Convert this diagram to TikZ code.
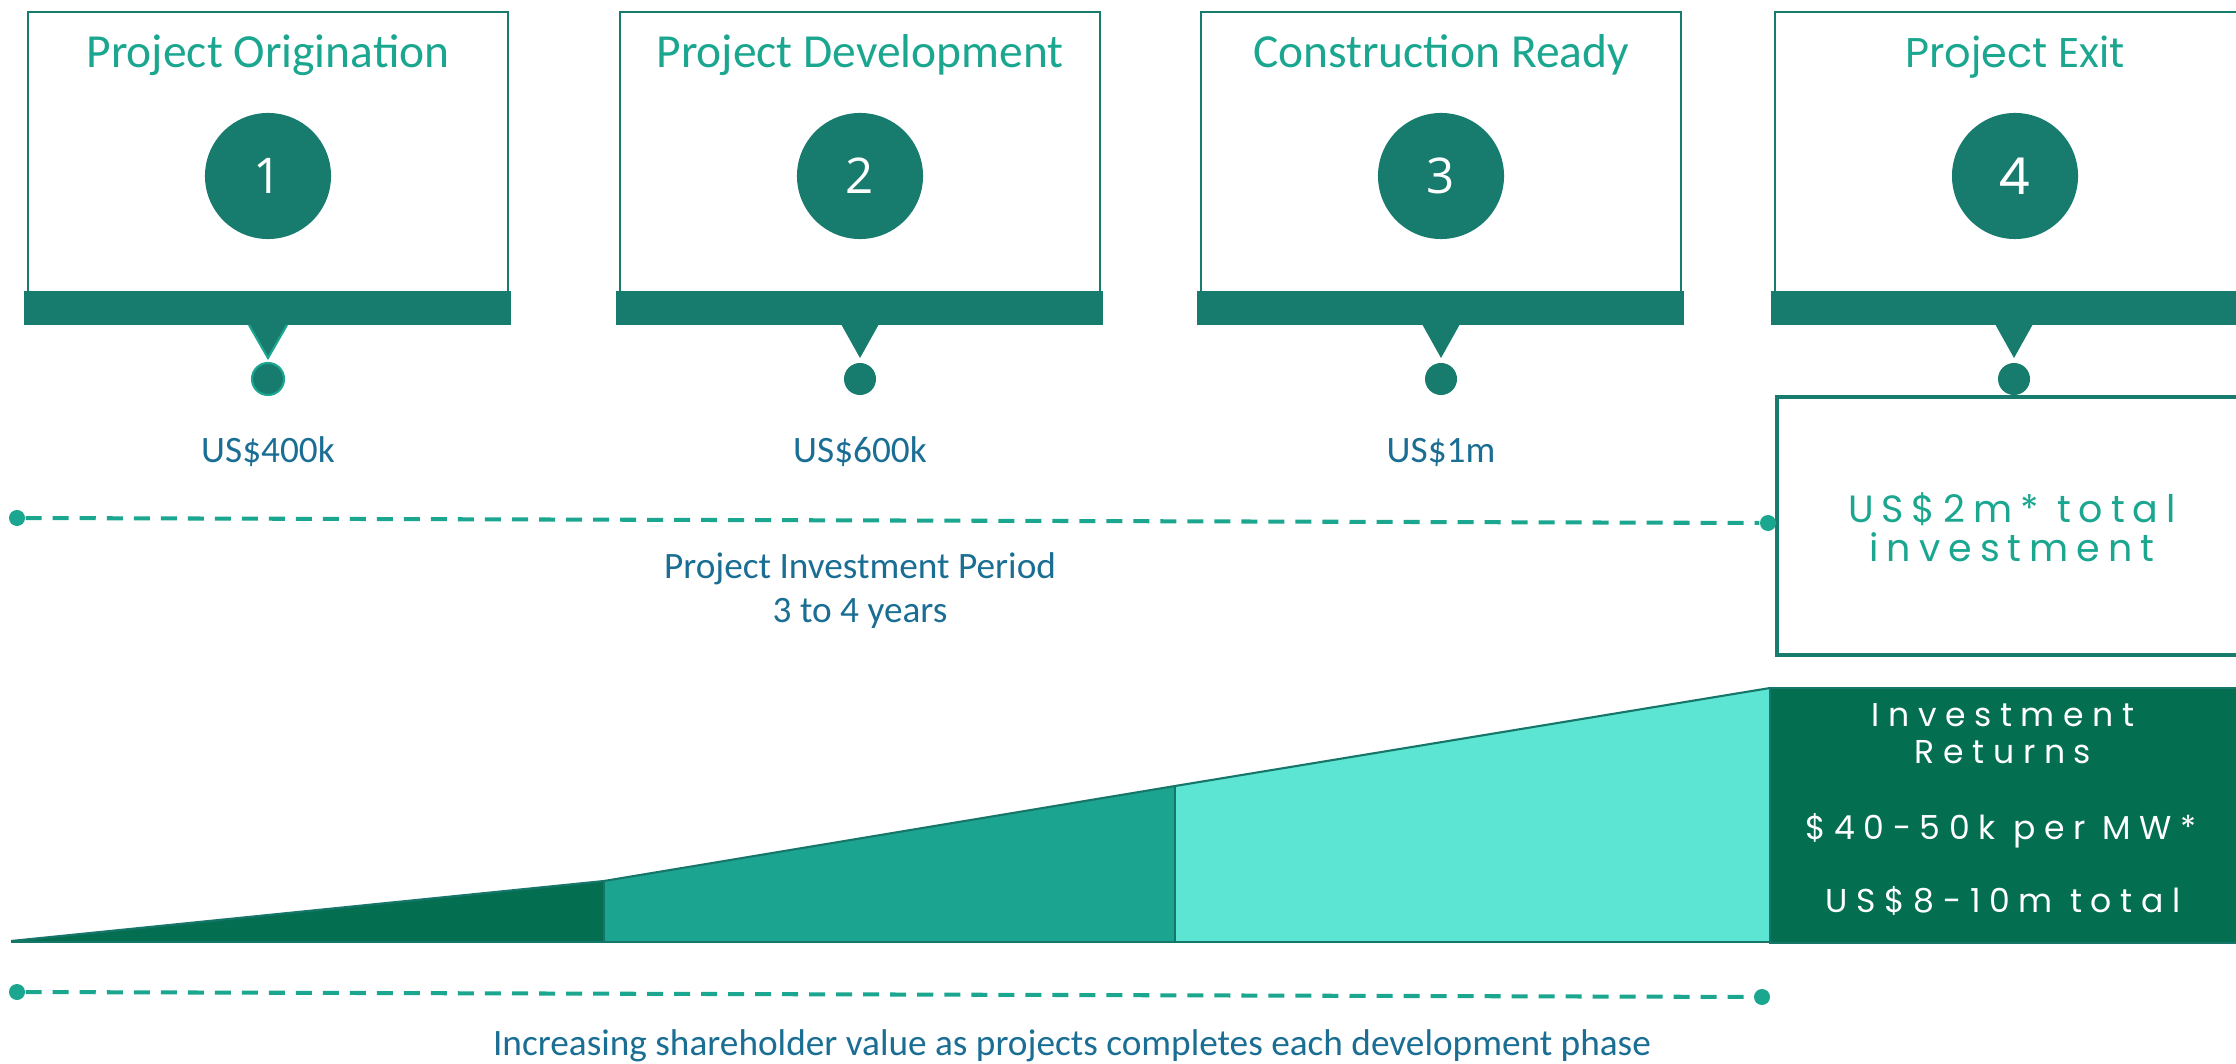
\documentclass[tikz,border=0pt]{standalone}
\usepackage{fontspec}
\setmainfont{Carlito}
\newfontfamily\osans{Open Sans}
\newfontfamily\pop{Poppins}
\newfontfamily\popA[LetterSpace=21]{Poppins}
\newfontfamily\popB[LetterSpace=26]{Poppins}
\definecolor{tealdk}{RGB}{23,123,110}
\definecolor{tealtxt}{RGB}{27,166,144}
\definecolor{bluetxt}{RGB}{27,110,147}
\definecolor{gdark}{RGB}{3,110,80}
\definecolor{gmed}{RGB}{27,165,145}
\definecolor{glight}{RGB}{92,229,210}
\definecolor{edgec}{RGB}{23,118,106}
\begin{document}
\begin{tikzpicture}[x=0.01cm,y=-0.01cm,
  phasebox/.style={draw=tealdk,line width=0.6pt,minimum width=4.8cm,minimum height=2.88cm,inner sep=0pt},
  barbox/.style={fill=tealdk,minimum width=4.87cm,minimum height=0.34cm,inner sep=0pt},
  numcirc/.style={circle,fill=tealdk,minimum size=1.26cm,inner sep=0pt,text=white,font=\osans\fontsize{14}{16}\selectfont},
  pin/.style={circle,fill=tealdk,minimum size=0.32cm,inner sep=0pt},
  titletxt/.style={anchor=base,text=tealtxt,inner sep=0pt,font=\fontsize{13.5}{15}\selectfont},
  amounttxt/.style={anchor=base,text=bluetxt,inner sep=0pt,font=\fontsize{10.6}{12}\selectfont},
  enddot/.style={circle,fill=tealtxt,minimum size=0.16cm,inner sep=0pt},
  dashline/.style={draw=tealtxt,line width=1.15pt,dash pattern=on 0.16cm off 0.11cm},
  wedge/.style={draw=edgec,line width=0.6pt},
  whitetxt/.style={anchor=base,text=white,inner sep=0pt,font=\popB\fontsize{9.4}{11}\selectfont},
]
\useasboundingbox (0,0) rectangle (2236,1064);
\clip (0,0) rectangle (2236,1064);

% phase boxes 1-3
\foreach \i/\cx/\ttl/\amt in {1/268/Project Origination/US\$400k, 2/860/Project Development/US\$600k, 3/1441/Construction Ready/US\$1m}{
  \node[phasebox] (box\i) at (\cx,156) {};
  \node[titletxt] (title\i) at (\cx,68) {\ttl};
  \node[numcirc] (num\i) at (\cx,176) {\i};
  \node[barbox] (bar\i) at (\cx-0.5,308) {};
  \fill[tealdk] (\cx-19,324) -- (\cx+19,324) -- (\cx,358) -- cycle;
  \node[pin] (pin\i) at (\cx,379) {};
  \node[amounttxt] (amt\i) at (\cx,463) {\amt};
}
% phase box 4
\node[phasebox] (box4) at (2015,156) {};
\node[titletxt,font=\pop\fontsize{11.8}{14}\selectfont] (title4) at (2015,68) {Project Exit};
\node[numcirc,font=\pop\fontsize{14.5}{16}\selectfont] (num4) at (2015,176) {4};
\node[barbox] (bar4) at (2014.5,308) {};
\fill[tealdk] (1995,324) -- (2033,324) -- (2014,358) -- cycle;
\node[pin] (pin4) at (2014,379) {};
\draw[tealtxt,line width=0.6pt] (249,325) -- (268,358) -- (287,325);
\draw[tealtxt,line width=0.6pt] (pin1) circle (0.16cm);

% total investment box
\node[draw=tealdk,line width=1.2pt,minimum width=4.8cm,minimum height=2.58cm,inner sep=0pt] (totbox) at (2017,526) {};
\node[anchor=base,text=tealtxt,inner sep=0pt,font=\popA\fontsize{10.8}{12}\selectfont] (tot1) at (2012,522) {US\$2m* total};
\node[anchor=base,text=tealtxt,inner sep=0pt,font=\popA\fontsize{10.8}{12}\selectfont] (tot2) at (2012,561) {investment};

% investment period line
\node[enddot] (pa) at (17,518) {};
\node[enddot] (pb) at (1768,523) {};
\draw[dashline] (pa) -- (pb);
\node[amounttxt] (per1) at (860,578) {Project Investment Period};
\node[amounttxt] (per2) at (860,623) {3 to 4 years};

% value wedges
\fill[gdark] (11,941) -- (604,881) -- (604,942) -- (11,942) -- cycle;
\fill[gmed] (604,881) -- (1175,786) -- (1175,942) -- (604,942) -- cycle;
\fill[glight] (1175,786) -- (1770,688) -- (1770,942) -- (1175,942) -- cycle;
\draw[wedge] (11,941) -- (604,881) -- (1175,786) -- (1770,688);
\draw[wedge] (604,881) -- (604,942);
\draw[wedge] (1175,786) -- (1175,942);
\draw[wedge] (11,942) -- (1770,942);
\node[fill=gdark,draw=edgec,line width=0.6pt,minimum width=4.8cm,minimum height=2.55cm,inner sep=0pt] (retbox) at (2010,815.5) {};
\node[whitetxt] (ret1) at (2003,726) {Investment};
\node[whitetxt] (ret2) at (2003,763) {Returns};
\node[whitetxt] (ret3) at (2001,839) {\$40-50k per MW*};
\node[whitetxt] (ret4) at (2003,912) {US\$8-10m total};

% shareholder value line
\node[enddot] (qa) at (17,992) {};
\node[enddot] (qb) at (1762,997) {};
\draw[dashline] (qa) -- (qb);
\node[amounttxt] (val) at (1072,1055) {Increasing shareholder value as projects completes each development phase};
\end{tikzpicture}
\end{document}
